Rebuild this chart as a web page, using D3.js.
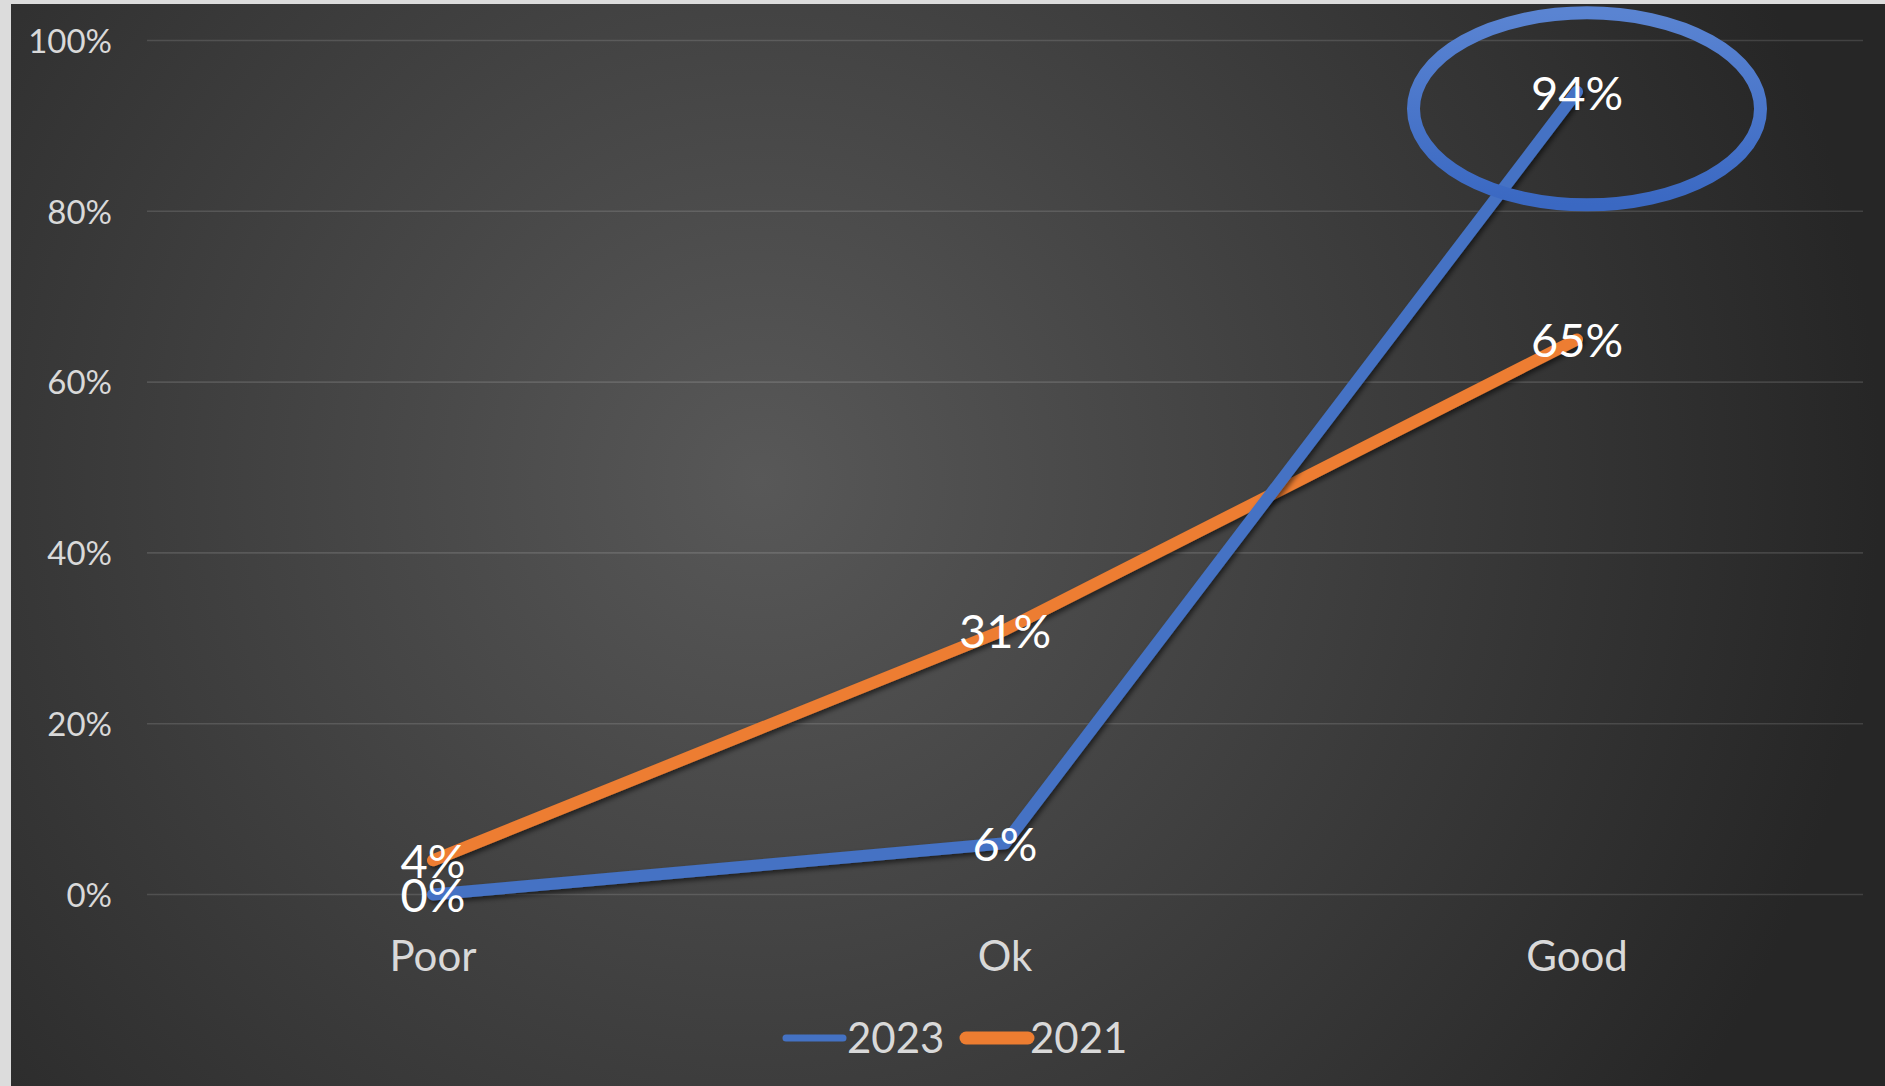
<!DOCTYPE html>
<html>
<head>
<meta charset="utf-8">
<script src="https://cdn.jsdelivr.net/npm/d3@7/dist/d3.min.js"></script>
<style>
  html, body { margin: 0; padding: 0; background: #dcdcdc; }
  svg { display: block; }
</style>
</head>
<body>
<svg id="chart" width="1885" height="1086"></svg>
<script>
// Rating categories and the share of responses per year
const categories = ["Poor", "Ok", "Good"];
const values2023 = [0.00, 0.06, 0.94];
const values2021 = [0.04, 0.31, 0.65];
const seriesNames = ["2023", "2021"];
const seriesColors = ["#4472c4", "#ed7d31"];
const yTicks = [0, 0.2, 0.4, 0.6, 0.8, 1.0];

const W = 1885, H = 1086;
const svg = d3.select("#chart");
const defs = svg.append("defs");

// Radial backdrop, bright near the centre and dark towards the edges
const bg = defs.append("radialGradient")
  .attr("id", "bgGrad").attr("gradientUnits", "userSpaceOnUse")
  .attr("cx", 760).attr("cy", 480).attr("r", 1120);
bg.append("stop").attr("offset", 0).attr("stop-color", "#585858");
bg.append("stop").attr("offset", 1).attr("stop-color", "#262626");

// Soft shadow cast by the series lines
const shadow = defs.append("filter").attr("id", "lineShadow")
  .attr("x", "-10%").attr("y", "-10%").attr("width", "120%").attr("height", "120%");
shadow.append("feDropShadow")
  .attr("dx", 2).attr("dy", 3).attr("stdDeviation", 2.5)
  .attr("flood-color", "#000").attr("flood-opacity", 0.55);

// Highlight ring colour, slightly lighter at the top
const ringGrad = defs.append("linearGradient").attr("id", "ringGrad")
  .attr("x1", 0).attr("y1", 0).attr("x2", 0).attr("y2", 1);
ringGrad.append("stop").attr("offset", 0).attr("stop-color", "#5a84d2");
ringGrad.append("stop").attr("offset", 1).attr("stop-color", "#3a68c2");

svg.append("rect")
  .attr("x", 11).attr("y", 4).attr("width", W - 11).attr("height", H - 4)
  .attr("fill", "url(#bgGrad)");

const plot = { left: 147, right: 1863, top: 40.5, bottom: 894.5 };

const x = d3.scaleBand().domain(categories).range([plot.left, plot.right]).padding(0);
const cx = c => x(c) + x.bandwidth() / 2;
const y = d3.scaleLinear().domain([0, 1]).range([plot.bottom, plot.top]);

// Horizontal gridlines
svg.append("g")
  .selectAll("line").data(yTicks).join("line")
  .attr("x1", plot.left).attr("x2", plot.right)
  .attr("y1", d => y(d)).attr("y2", d => y(d))
  .attr("stroke", "rgba(255,255,255,0.13)").attr("stroke-width", 1.6);

// Y axis labels
const yAxis = d3.axisLeft(y).tickValues(yTicks).tickFormat(d3.format(".0%")).tickSize(0).tickPadding(0);
const yG = svg.append("g").attr("transform", `translate(112,0)`).call(yAxis);
yG.select(".domain").remove();
yG.selectAll("text")
  .attr("fill", "#d9d9d9").attr("font-family", "Lato, sans-serif").attr("font-size", 33)
  .attr("dy", "0.36em");

// X axis labels
const xAxis = d3.axisBottom(x).tickSize(0).tickPadding(0);
const xG = svg.append("g").attr("transform", `translate(0,971)`).call(xAxis);
xG.select(".domain").remove();
xG.selectAll("text")
  .attr("fill", "#d9d9d9").attr("font-family", "Lato, sans-serif").attr("font-size", 42)
  .attr("dy", 0);

const series = [
  { name: seriesNames[0], color: seriesColors[0], values: values2023 },
  { name: seriesNames[1], color: seriesColors[1], values: values2021 }
];

const line = d3.line().x(d => cx(d.cat)).y(d => y(d.v));

// Series lines (2021 underneath 2023 at the crossing)
series.slice().reverse().forEach(s => {
  svg.append("path")
    .datum(categories.map((c, i) => ({ cat: c, v: s.values[i] })))
    .attr("d", line)
    .attr("fill", "none")
    .attr("stroke", s.color)
    .attr("stroke-width", 12)
    .attr("stroke-linecap", "round")
    .attr("stroke-linejoin", "round")
    .attr("filter", "url(#lineShadow)");
});

// Highlight ring round the top "Good" result
svg.append("ellipse")
  .attr("cx", cx("Good") + 10).attr("cy", y(0.92))
  .attr("rx", 173.5).attr("ry", 96)
  .attr("fill", "none")
  .attr("stroke", "url(#ringGrad)")
  .attr("stroke-width", 13);

// Value labels centred on each point
const fmt = d3.format(".0%");
series.forEach(s => {
  svg.append("g").selectAll("text")
    .data(categories.map((c, i) => ({ cat: c, v: s.values[i] })))
    .join("text")
    .attr("x", d => cx(d.cat))
    .attr("y", d => y(d.v))
    .attr("dy", "0.38em")
    .attr("text-anchor", "middle")
    .attr("fill", "#ffffff")
    .attr("font-family", "Lato, sans-serif")
    .attr("font-size", 47)
    .text(d => fmt(d.v));
});

// Legend
const legend = [
  { name: seriesNames[0], color: seriesColors[0], x1: 786, x2: 843, w: 7, tx: 847 },
  { name: seriesNames[1], color: seriesColors[1], x1: 966, x2: 1028, w: 13, tx: 1030 }
];
const lg = svg.append("g");
legend.forEach(l => {
  lg.append("line")
    .attr("x1", l.x1).attr("x2", l.x2).attr("y1", 1038).attr("y2", 1038)
    .attr("stroke", l.color).attr("stroke-width", l.w).attr("stroke-linecap", "round");
  lg.append("text")
    .attr("x", l.tx).attr("y", 1053)
    .attr("fill", "#d9d9d9").attr("font-family", "Lato, sans-serif").attr("font-size", 42)
    .text(l.name);
});
</script>
</body>
</html>
